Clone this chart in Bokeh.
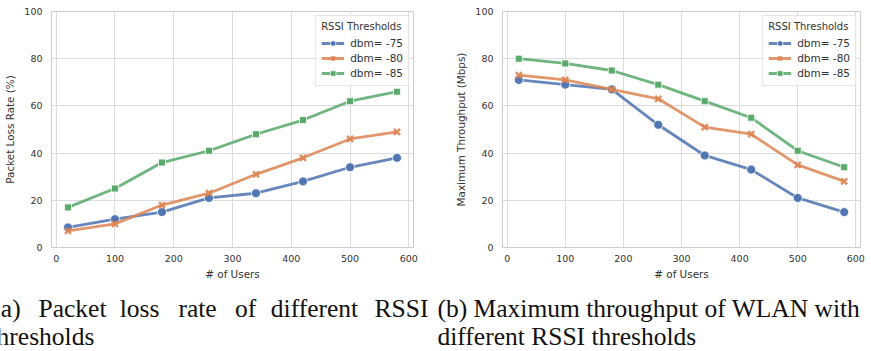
from bokeh.plotting import figure
from bokeh.models import Range1d, Legend, LegendItem, FixedTicker, ColumnDataSource
from bokeh.layouts import column, row
from bokeh.embed import file_html
from bokeh.resources import INLINE
from bokeh.core.properties import value

# ---------------- data ----------------
users = [20, 100, 180, 260, 340, 420, 500, 580]
series_labels = ["dbm= -75", "dbm= -80", "dbm= -85"]

loss_75 = [8.5, 12, 15, 21, 23, 28, 34, 38]
loss_80 = [7, 10, 18, 23, 31, 38, 46, 49]
loss_85 = [17, 25, 36, 41, 48, 54, 62, 66]

thr_75 = [71, 69, 67, 52, 39, 33, 21, 15]
thr_80 = [73, 71, 67, 63, 51, 48, 35, 28]
thr_85 = [80, 78, 75, 69, 62, 55, 41, 34]

x_ticks = [0, 100, 200, 300, 400, 500, 600]
y_ticks = [0, 20, 40, 60, 80, 100]

legend_title = "RSSI Thresholds"
x_label = "# of Users"
y_label_a = "Packet Loss Rate (%)"
y_label_b = "Maximum Throughput (Mbps)"

caption_a1_words = ["(a)", "Packet", "loss", "rate", "of", "different", "RSSI"]
caption_a2 = "thresholds"
caption_b1 = "(b) Maximum throughput of WLAN with"
caption_b2 = "different RSSI thresholds"

# ---------------- styles ----------------
COLORS = ["#4C72B0", "#DD8452", "#55A868"]
MARKERS = ["circle", "x", "square"]
MSIZES = [9, 8.5, 7]
TEXT = "#333333"
GRID = "#dcdcdc"
SANS = "DejaVu Sans"
SERIF = "Liberation Serif"


def make_plot(width, border_left, border_right, ylab, ys):
    p = figure(width=width, height=290, output_backend="svg", toolbar_location=None,
               x_range=Range1d(-8, 608), y_range=Range1d(0, 100),
               min_border_left=border_left, min_border_right=border_right,
               min_border_top=11, min_border_bottom=43)
    p.outline_line_color = "#cccccc"
    p.outline_line_width = 1
    p.background_fill_color = "white"
    p.border_fill_color = "white"
    for ax in (p.xaxis[0], p.yaxis[0]):
        ax.axis_line_color = None
        ax.major_tick_line_color = None
        ax.minor_tick_line_color = None
        ax.major_tick_out = 0
        ax.major_tick_in = 0
        ax.major_label_text_font = SANS
        ax.major_label_text_font_size = "9.5px"
        ax.major_label_text_color = TEXT
        ax.axis_label_text_font = SANS
        ax.axis_label_text_font_size = "10.4px"
        ax.axis_label_text_font_style = "normal"
        ax.axis_label_text_color = TEXT
    p.xaxis.ticker = FixedTicker(ticks=x_ticks)
    p.yaxis.ticker = FixedTicker(ticks=y_ticks)
    p.xaxis.major_label_standoff = 7
    p.yaxis.major_label_standoff = 9
    p.xaxis.axis_label = x_label
    p.yaxis.axis_label = ylab
    p.xaxis.axis_label_standoff = 3
    p.yaxis.axis_label_standoff = 5
    p.xgrid.grid_line_color = GRID
    p.ygrid.grid_line_color = GRID
    p.xgrid.ticker = FixedTicker(ticks=x_ticks)
    p.ygrid.ticker = FixedTicker(ticks=y_ticks)

    items = []
    for i, yv in enumerate(ys):
        src = ColumnDataSource(dict(x=users, y=yv))
        ln = p.line("x", "y", source=src, line_color=COLORS[i], line_width=2.8, line_alpha=0.85)
        if MARKERS[i] == "x":
            mk = p.scatter("x", "y", source=src, marker="x", size=MSIZES[i],
                           line_color=COLORS[i], line_width=2.5, line_alpha=0.9)
        else:
            mk = p.scatter("x", "y", source=src, marker=MARKERS[i], size=MSIZES[i],
                           fill_color=COLORS[i], line_color="white", line_width=0.8,
                           fill_alpha=0.95)
        items.append(LegendItem(label=series_labels[i], renderers=[ln, mk]))

    leg = Legend(items=items, location="top_right", title=legend_title)
    leg.margin = 4
    leg.padding = 5
    leg.spacing = 1
    leg.glyph_width = 23
    leg.glyph_height = 14
    leg.label_height = 14
    leg.label_standoff = 6
    leg.label_text_font = SANS
    leg.label_text_font_size = "10.5px"
    leg.label_text_color = TEXT
    leg.title_text_font = SANS
    leg.title_text_font_size = "10px"
    leg.title_text_font_style = "normal"
    leg.title_text_color = TEXT
    leg.title_standoff = 4
    leg.border_line_color = "#cccccc"
    leg.background_fill_alpha = 0.85
    p.add_layout(leg)
    return p


p1 = make_plot(435, 51, 22, y_label_a, [loss_75, loss_80, loss_85])
p2 = make_plot(436, 67, 11, y_label_b, [thr_75, thr_80, thr_85])

# ---------------- captions (page-pixel coordinates) ----------------
cap = figure(width=871, height=61, output_backend="svg", toolbar_location=None,
             x_range=Range1d(0, 871), y_range=Range1d(351, 290),
             min_border=0)
cap.axis.visible = False
cap.grid.visible = False
cap.outline_line_color = None

LINE1 = 308
LINE2 = 336
# justified first line of caption (a): word centres
a1_x = [6, 72, 139, 197, 245, 314, 401]
cap.text(x=a1_x, y=[LINE1] * len(caption_a1_words), text=caption_a1_words,
         text_font=value(SERIF), text_font_size="25.5px", text_color="#111111",
         text_baseline="alphabetic", text_align="center")
cap.text(x=[-11, 437, 437], y=[LINE2, LINE1, LINE2], text=[caption_a2, caption_b1, caption_b2],
         text_font=value(SERIF), text_font_size="25.5px", text_color="#111111",
         text_baseline="alphabetic", text_align="left")

layout = column(row(p1, p2), cap)
open("out.html", "w").write(file_html(layout, INLINE))
